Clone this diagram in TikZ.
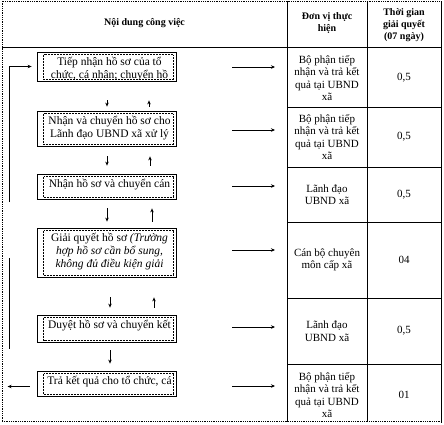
\documentclass[tikz,border=0pt]{standalone}
\usepackage{fontspec}
\setmainfont{Liberation Serif}
\usetikzlibrary{arrows.meta,positioning,calc}
\tikzset{
  taskframe/.style={draw=black,line width=0.8pt,minimum width=139pt,inner sep=0pt},
  taskinner/.style={draw=black,line width=0.5pt,densely dotted},
  tasktext/.style={align=center,inner sep=0pt,font=\fontsize{11.5}{13}\selectfont},
  celltext/.style={align=center,inner sep=0pt,font=\fontsize{11}{12.5}\selectfont},
  headtext/.style={align=center,inner sep=0pt,font=\fontsize{10}{12}\selectfont\bfseries},
  tabrule/.style={line width=0.8pt},
  tabdots/.style={line width=0.8pt,densely dotted},
  flowarr/.style={-{Stealth[length=4pt,width=3.5pt]},line width=0.7pt}
}
% one step of the procedure: name, top, bottom, text
\newcommand{\taskbox}[4]{%
  \node[taskframe,minimum height={(#3-#2)*1pt}] (#1) at (106.5,{(#2+#3)/2}) {};
  \draw[taskinner] ([xshift=7pt,yshift=-3pt]#1.north west) rectangle ([xshift=-3pt,yshift=2pt]#1.south east);
  \begin{scope}
    \clip ([xshift=7pt,yshift=-3pt]#1.north west) rectangle ([xshift=-3pt,yshift=2pt]#1.south east);
    \node[tasktext,anchor=north] (#1t) at ([xshift=3pt,yshift=-5.5pt]#1.north) {#4};
  \end{scope}}
\begin{document}
\begin{tikzpicture}[x=1pt,y=-1pt]
  \useasboundingbox (0,0) rectangle (444,424);

  % table frame
  \draw[tabdots] (2,421) -- (2,1) -- (441,1);
  \draw[tabdots] (2,421) -- (441,421);
  \draw[tabrule] (441,1) -- (441,423);
  \draw[tabrule] (287,1) -- (287,422);
  \draw[tabrule] (367,1) -- (367,422);
  \draw[tabrule] (2,47) -- (441,47);
  \foreach \y in {107,167,222,298,364}
    \draw[tabrule] (287,\y) -- (441,\y);

  % header
  \node[headtext] (h1) at (144.5,23) {Nội dung công việc};
  \node[headtext] (h2) at (327,23) {Đơn vị thực\\hiện};
  \node[headtext] (h3) at (404,25) {Thời gian\\giải quyết\\(07 ngày)};

  % steps
  \taskbox{b1}{52}{81}{Tiếp nhận hồ sơ của tổ\\chức, cá nhân; chuyển hồ};
  \taskbox{b2}{111}{146}{Nhận và chuyển hồ sơ cho\\Lãnh đạo UBND xã xử lý};
  \taskbox{b3}{174}{199}{Nhận hồ sơ và chuyển cán};
  \taskbox{b4}{228}{277}{Giải quyết hồ sơ \textit{(Trường}\\\textit{hợp hồ sơ cần bổ sung,}\\\textit{không đủ điều kiện giải}};
  \taskbox{b5}{315}{342}{Duyệt hồ sơ và chuyển kết};
  \taskbox{b6}{371}{396}{Trả kết quả cho tổ chức, cá};

  % arrows between the steps
  \foreach \a/\b/\s/\e/\dx/\ux in {b1/b2/19/4/0.5/42.5,b2/b3/10/8/0.5/43.5,b3/b4/9/6/0.5/45.5,b4/b5/20/7/3.5/47.5} {
    \draw[flowarr,shorten <=\s pt,shorten >=\e pt] ([xshift=\dx pt]\a.south) -- ([xshift=\dx pt]\b.north);
    \draw[flowarr,shorten <=\e pt,shorten >=\s pt] ([xshift=\ux pt]\b.north) -- ([xshift=\ux pt]\a.south);
  }
  \draw[flowarr,shorten <=8pt,shorten >=7pt] ([xshift=3.5pt]b5.south) -- ([xshift=3.5pt]b6.north);

  % return loop on the left
  \coordinate (loopA) at (9,202);
  \coordinate (loopB) at (9,258);
  \coordinate (loopC) at (9,349);
  \draw[flowarr] (loopA) |- ([xshift=-5pt]b1.west);
  \draw[line width=0.7pt] (loopB) -- (loopC);
  \draw[flowarr] ([xshift=-7pt,yshift=-3pt]b6.west) -- ++(-22,0);

  % units and times
  \foreach \i/\y/\unit/\days in {1/78/{Bộ phận tiếp\\nhận và trả kết\\quả tại UBND\\xã}/{0,5},
                                 2/137/{Bộ phận tiếp\\nhận và trả kết\\quả tại UBND\\xã}/{0,5},
                                 3/194.5/{Lãnh đạo\\UBND xã}/{0,5},
                                 4/260/{Cán bộ chuyên\\môn cấp xã}/04,
                                 5/331/{Lãnh đạo\\UBND xã}/{0,5},
                                 6/395/{Bộ phận tiếp\\nhận và trả kết\\quả tại UBND\\xã}/01} {
    \node[celltext] (u\i) at (327,\y) {\unit};
    \node[celltext] (t\i) at (404,\y) {\days};
  }

  % arrows from the steps to the units
  \foreach \i/\y in {1/67,2/130,3/186,4/250,5/327,6/386} {
    \coordinate (a\i) at (232,\y);
    \draw[flowarr] (a\i) -- ++(43,0);
  }
\end{tikzpicture}
\end{document}
